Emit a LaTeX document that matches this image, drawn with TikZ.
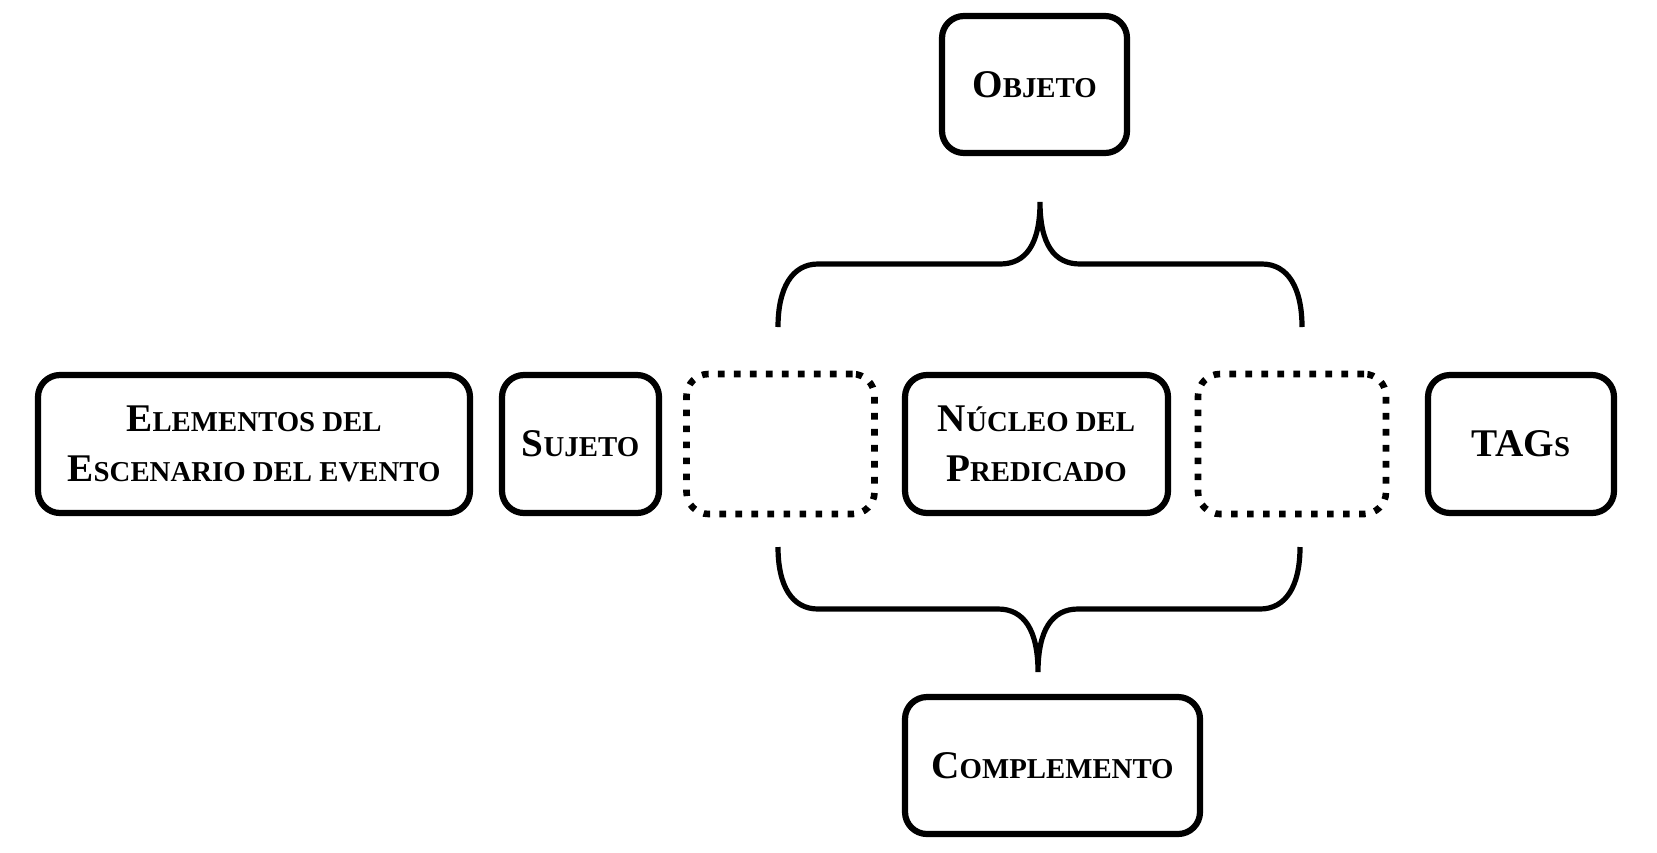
\documentclass[tikz,border=0pt]{standalone}
\usepackage{fontspec}
\setmainfont{Liberation Serif}

% versalitas hechas a mano: inicial grande, resto pequeno
\newcommand{\capword}[2]{{\fontsize{19.6}{25}\selectfont #1}{\fontsize{14.4}{25}\selectfont #2}}

\tikzset{
  box/.style={draw, line width=3.1pt, rounded corners=11pt, minimum height=69pt,
    inner sep=0pt, align=center, font=\bfseries\fontsize{19.6}{25}\selectfont},
  gapbox/.style={draw, line width=3.3pt, dash pattern=on 3.3pt off 4.7pt,
    rounded corners=11pt, minimum height=70pt, minimum width=94pt},
  brace/.style={line width=2.6pt}
}

\begin{document}
\begin{tikzpicture}[x=0.5pt,y=-0.5pt]
\useasboundingbox (0,0) rectangle (1657,852);

% fila principal
\node[box, minimum width=216pt] (escenario) at (254,444) {\capword{E}{LEMENTOS DEL}\\\capword{E}{SCENARIO DEL EVENTO}};
\node[box, minimum width=78.5pt] (sujeto) at (580.5,444) {\capword{S}{UJETO}};
\node[gapbox] (hueco1) at (780.5,444) {};
\node[box, minimum width=131.5pt] (nucleo) at (1036.5,444) {\capword{N}{ÚCLEO DEL}\\\capword{P}{REDICADO}};
\node[gapbox] (hueco2) at (1292,444) {};
\node[box, minimum width=93pt] (tags) at (1521,444) {\capword{TAG}{S}};

% arriba y abajo
\node[box, minimum width=92.5pt, minimum height=68.5pt] (objeto) at (1034.5,84.5) {\capword{O}{BJETO}};
\node[box, minimum width=147.5pt, minimum height=68.5pt] (complemento) at (1052.5,765.5) {\capword{C}{OMPLEMENTO}};

% llave superior
\draw[brace] (778,327) .. controls (778,288) and (792,264) .. (818,264) -- (1000,264)
  .. controls (1026,264) and (1040,244) .. (1040,202)
  .. controls (1040,244) and (1054,264) .. (1080,264) -- (1262,264)
  .. controls (1288,264) and (1302,288) .. (1302,327);

% llave inferior
\draw[brace] (778,547) .. controls (778,586) and (792,609) .. (818,609) -- (998,609)
  .. controls (1024,609) and (1038,630) .. (1038,672)
  .. controls (1038,630) and (1052,609) .. (1078,609) -- (1260,609)
  .. controls (1286,609) and (1300,586) .. (1300,547);
\end{tikzpicture}
\end{document}
